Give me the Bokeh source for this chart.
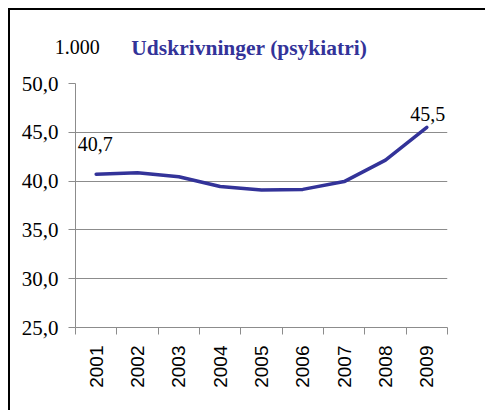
import math
from bokeh.plotting import figure
from bokeh.models import FixedTicker, Range1d, Label, LinearAxis
from bokeh.embed import file_html
from bokeh.resources import INLINE

years = ["2001", "2002", "2003", "2004", "2005", "2006", "2007", "2008", "2009"]
values = [40.7, 40.85, 40.45, 39.45, 39.1, 39.15, 39.95, 42.15, 45.5]
y_ticks = [25, 30, 35, 40, 45, 50]
y_tick_labels = ["25,0", "30,0", "35,0", "40,0", "45,0", "50,0"]
title_unit = "1.000"
title_text = "Udskrivninger (psykiatri)"
first_label = "40,7"
last_label = "45,5"

BLUE = "#333399"
GREY = "#8c8c8c"

xs = [i + 0.5 for i in range(len(years))]

W, H = 477, 402
MB_L, MB_R, MB_T, MB_B = 65, 40, 73, 85
p = figure(width=W, height=H, output_backend="svg", toolbar_location=None,
           x_range=Range1d(0, len(years)), y_range=Range1d(25, 50),
           min_border_left=MB_L, min_border_right=MB_R,
           min_border_top=MB_T, min_border_bottom=MB_B)
p.styles = {"margin-left": "8px", "margin-top": "8px",
            "border-left": "2px solid black", "border-top": "2px solid black",
            "border-right": "none", "border-bottom": "none",
            "outline": "none", "box-shadow": "none"}
p.outline_line_color = None
p.background_fill_color = "white"
p.border_fill_color = "white"

p.line(xs, values, line_color=BLUE, line_width=3.5, line_join="round", line_cap="round")

# y axis
p.yaxis.ticker = FixedTicker(ticks=y_ticks, minor_ticks=[])
p.yaxis.major_label_overrides = {t: l for t, l in zip(y_ticks, y_tick_labels)}
p.yaxis.axis_line_color = GREY
p.yaxis.major_tick_line_color = GREY
p.yaxis.major_tick_out = 7
p.yaxis.major_tick_in = 0
p.yaxis.major_label_standoff = 10
p.yaxis.major_label_text_font = "Liberation Serif"
p.yaxis.major_label_text_font_size = "21px"
p.yaxis.major_label_text_color = "black"

# x axis: labels at centers, tick marks at boundaries (minor ticks)
p.xaxis.ticker = FixedTicker(ticks=xs, minor_ticks=list(range(len(years) + 1)))
p.xaxis.major_label_overrides = {x: y for x, y in zip(xs, years)}
p.xaxis.major_tick_line_color = None
p.xaxis.minor_tick_line_color = GREY
p.xaxis.minor_tick_out = 7
p.xaxis.minor_tick_in = 0
p.xaxis.axis_line_color = GREY
p.xaxis.major_label_orientation = math.pi / 2
p.xaxis.major_label_standoff = 11
p.xaxis.major_label_text_font = "Liberation Sans"
p.xaxis.major_label_text_font_size = "19px"
p.xaxis.major_label_text_color = "black"

p.xgrid.grid_line_color = None
p.ygrid.ticker = FixedTicker(ticks=y_ticks)
p.ygrid.grid_line_color = GREY
p.ygrid.grid_line_width = 1

# header texts drawn as labels of two hidden axes above the frame
title_x = 4.205   # horizontal centre of the chart title, in category units
unit_x = 0.044    # horizontal centre of the unit text, in category units

def header_axis(pos, text, standoff, size, color, style):
    ax = LinearAxis(ticker=FixedTicker(ticks=[pos], minor_ticks=[]),
                    major_label_overrides={pos: text})
    ax.axis_line_color = None
    ax.major_tick_line_color = None
    ax.minor_tick_line_color = None
    ax.major_tick_out = 0
    ax.major_tick_in = 0
    ax.minor_tick_out = 0
    ax.minor_tick_in = 0
    ax.major_label_standoff = standoff
    ax.major_label_text_font = "Liberation Serif"
    ax.major_label_text_font_size = size
    ax.major_label_text_color = color
    ax.major_label_text_font_style = style
    return ax

p.add_layout(header_axis(title_x, title_text, 24, "21.5px", BLUE, "bold"), "above")
p.add_layout(header_axis(unit_x, title_unit, -21, "20px", "black", "normal"), "above")

# data labels
p.add_layout(Label(x=xs[0], y=values[0], y_offset=30, x_offset=-1, text=first_label,
                   text_align="center", text_baseline="middle",
                   text_font="Liberation Serif", text_font_size="20px", text_color="black"))
p.add_layout(Label(x=xs[-1], y=values[-1], y_offset=13, x_offset=1, text=last_label,
                   text_align="center", text_baseline="middle",
                   text_font="Liberation Serif", text_font_size="20px", text_color="black"))

open("out.html", "w").write(file_html(p, INLINE))
